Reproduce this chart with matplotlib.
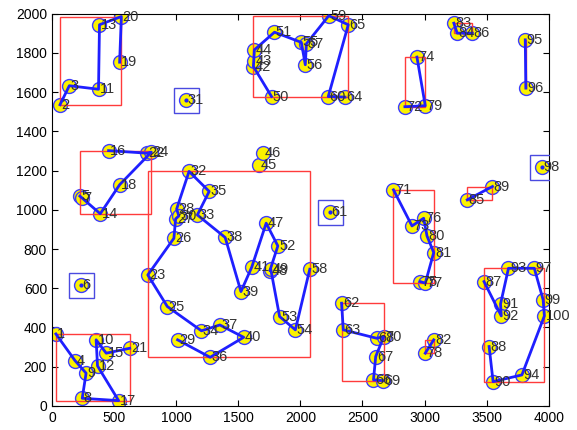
import matplotlib
matplotlib.use("Agg")
import matplotlib.pyplot as plt
from matplotlib.patches import Rectangle

plt.rcParams['font.family'] = ['Liberation Sans', 'DejaVu Sans']

# point coordinates, point id = index + 1
xs = [32, 65, 140, 186, 225, 236, 240, 244, 275, 356,
      375, 367, 383, 389, 437, 456, 537, 545, 545, 559,
      626, 765, 772, 800, 929, 982, 996, 1004, 1012, 1022,
      1077, 1104, 1171, 1204, 1266, 1274, 1352, 1395, 1522, 1544,
      1609, 1622, 1625, 1630, 1671, 1698, 1725, 1755, 1762, 1768,
      1792, 1819, 1833, 1960, 2008, 2040, 2049, 2076, 2229, 2225,
      2235, 2332, 2346, 2359, 2386, 2589, 2607, 2615, 2665, 2672,
      2750, 2842, 2899, 2939, 2966, 2993, 3006, 3006, 3006, 3020,
      3074, 3074, 3236, 3263, 3344, 3385, 3479, 3520, 3547, 3552,
      3612, 3618, 3676, 3784, 3811, 3816, 3884, 3945, 3955, 3965]
ys = [367, 1536, 1633, 231, 1070, 617, 1062, 39, 167, 337,
      1615, 204, 1944, 980, 269, 1302, 27, 1128, 1753, 1986,
      294, 1289, 668, 1294, 507, 855, 954, 1004, 337, 969,
      1561, 1196, 974, 383, 1094, 248, 413, 859, 583, 350,
      708, 1731, 1757, 1816, 1230, 1289, 932, 690, 697, 1578,
      1906, 816, 456, 388, 1854, 1740, 1847, 697, 1990, 1578,
      991, 524, 388, 1575, 1944, 133, 252, 345, 129, 354,
      1102, 1526, 918, 1779, 634, 957, 626, 269, 1531, 867,
      782, 337, 1952, 1901, 1051, 1901, 634, 303, 1119, 124,
      520, 459, 702, 158, 1867, 1621, 702, 1219, 541, 459]

# tours (ids in visiting order)
routes = [
    [1, 4, 9, 8, 17, 12, 10, 15, 21],
    [2, 3, 11, 13, 20, 19],
    [16, 22, 24, 18, 14, 7, 5],
    [29, 36, 40, 37, 34, 25, 23, 26, 27, 30, 28, 32, 35, 33, 38, 39,
     41, 47, 52, 48, 49, 53, 54, 58],
    [50, 42, 43, 44, 51, 55, 56, 57, 59, 65, 60, 64],
    [62, 63, 68, 70, 67, 66, 69],
    [71, 73, 76, 80, 81, 77, 75],
    [74, 79, 72],
    [78, 82],
    [83, 84, 86],
    [85, 89],
    [95, 96],
    [87, 92, 91, 93, 97, 99, 100, 94, 90, 88],
]
singles = [6, 31, 61, 98]

fig = plt.figure(figsize=(5.77, 4.30), dpi=100)
ax = fig.add_axes([0.090, 0.056, 0.861, 0.912])

# yellow points
ax.plot(xs, ys, 'o', ms=10, mfc='#fbf200', mec='#3c3cff', mew=1, ls='none', zorder=2)

# bounding boxes of the routes
for r in routes:
    rx = [xs[i - 1] for i in r]
    ry = [ys[i - 1] for i in r]
    ax.add_patch(Rectangle((min(rx), min(ry)), max(rx) - min(rx), max(ry) - min(ry),
                           fill=False, ec='#ff3b3b', lw=1, zorder=3))

# routes
for r in routes:
    ax.plot([xs[i - 1] for i in r], [ys[i - 1] for i in r], '-', color='#1f1fff', lw=2, zorder=4)

# single points
sx = [xs[i - 1] for i in singles]
sy = [ys[i - 1] for i in singles]
ax.plot(sx, sy, 's', ms=18, mfc='none', mec='#4a4ae0', mew=1, ls='none', zorder=3)
ax.plot(sx, sy, '.', ms=4, color='#1f1fff', ls='none', zorder=4)

# labels
for i in range(len(xs)):
    ax.annotate(str(i + 1), (xs[i], ys[i]), xytext=(1, 0), textcoords='offset points',
                ha='left', va='center', fontsize=10.5, color='#333333', zorder=5)

ax.set_xlim(0, 4000)
ax.set_ylim(0, 2000)
ax.set_xticks(range(0, 4001, 500))
ax.set_yticks(range(0, 2001, 200))
ax.tick_params(direction='in', top=True, right=True, labelsize=10, length=4)

fig.savefig('out.png', dpi=100)
